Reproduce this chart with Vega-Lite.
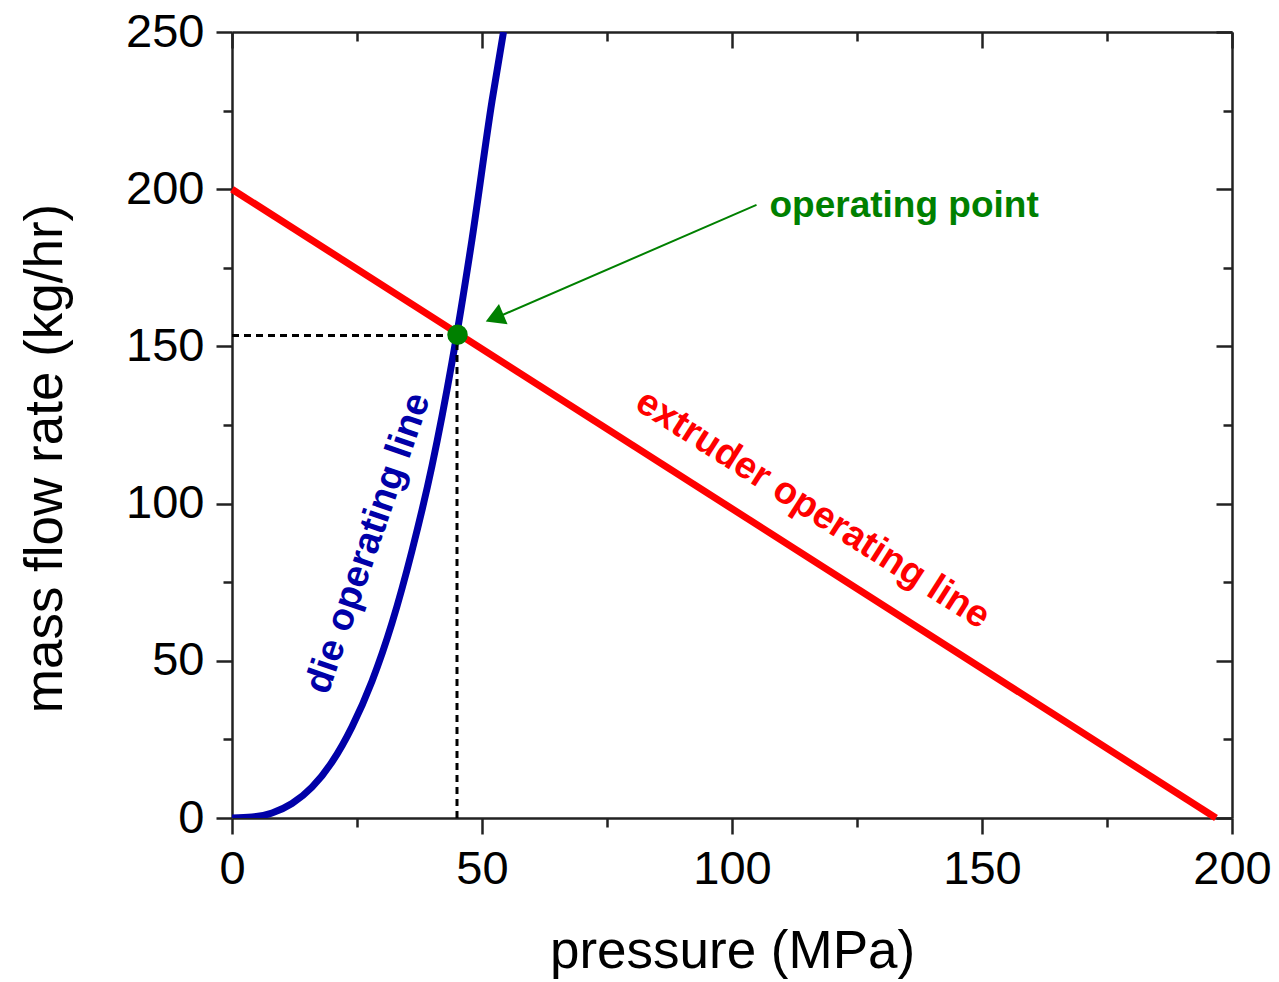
{
  "$schema": "https://vega.github.io/schema/vega-lite/v6.json",
  "width": 1000,
  "height": 786,
  "autosize": {"type": "none"},
  "padding": {"left": 232, "top": 32, "right": 47, "bottom": 164},
  "background": "white",
  "config": {
    "view": {"stroke": null},
    "axis": {
      "labelFont": "Liberation Sans",
      "titleFont": "Liberation Sans",
      "labelColor": "#000000",
      "titleColor": "#000000",
      "tickColor": "#222222",
      "domainColor": "#222222",
      "tickWidth": 2.5,
      "domainWidth": 2.5,
      "grid": false,
      "labelFlush": false,
      "labelOverlap": false,
      "titleFontWeight": "normal"
    },
    "text": {"font": "Liberation Sans"}
  },
  "resolve": {"axis": {"x": "independent", "y": "independent"}},
  "layer": [
    {
      "data": {"values": [{"p": 0, "m": 200}, {"p": 196.8, "m": 0}]},
      "mark": {"type": "line", "color": "#ff0000", "strokeWidth": 7},
      "encoding": {
        "x": {"field": "p", "type": "quantitative", "scale": {"domain": [0, 200], "nice": false},
          "axis": {"orient": "bottom", "values": [25, 75, 125, 175], "tickSize": 9, "labels": false, "domain": false, "title": null}},
        "y": {"field": "m", "type": "quantitative", "scale": {"domain": [0, 250], "nice": false},
          "axis": {"orient": "left", "values": [25, 75, 125, 175, 225], "tickSize": 9, "labels": false, "domain": false, "title": null}}
      }
    },
    {
      "data": {"values": [
        {"p": 0, "m": 0}, {"p": 4, "m": 0.3}, {"p": 8, "m": 1.6}, {"p": 12, "m": 4.6},
        {"p": 16, "m": 9.8}, {"p": 20, "m": 17.8}, {"p": 24, "m": 29}, {"p": 28, "m": 43.5},
        {"p": 32, "m": 62}, {"p": 36, "m": 85}, {"p": 40, "m": 112}, {"p": 44, "m": 145},
        {"p": 48, "m": 184}, {"p": 52, "m": 228}, {"p": 54.3, "m": 250}
      ]},
      "mark": {"type": "line", "color": "#0000a8", "strokeWidth": 7, "interpolate": "monotone", "clip": true},
      "encoding": {
        "x": {"field": "p", "type": "quantitative",
          "axis": {"orient": "bottom", "values": [0, 50, 100, 150, 200], "tickSize": 16, "labelFontSize": 47, "labelPadding": 12,
            "domain": true, "title": "pressure (MPa)", "titleFontSize": 53, "titleX": 500, "titleY": 149, "titleBaseline": "alphabetic", "titleAlign": "center"}},
        "y": {"field": "m", "type": "quantitative",
          "axis": {"orient": "left", "values": [0, 50, 100, 150, 200, 250], "tickSize": 16, "labelFontSize": 47, "labelPadding": 12,
            "domain": true, "title": "mass flow rate (kg/hr)", "titleFontSize": 53, "titleX": -171, "titleY": 426, "titleAngle": -90, "titleBaseline": "alphabetic", "titleAlign": "center"}}
      }
    },
    {
      "data": {"values": [{"p": 0, "p2": 45, "m": 153.5}]},
      "mark": {"type": "rule", "color": "#000000", "strokeWidth": 3, "strokeDash": [7, 5]},
      "encoding": {
        "x": {"field": "p", "type": "quantitative",
          "axis": {"orient": "top", "values": [0, 50, 100, 150, 200], "tickSize": -16, "labels": false, "domain": true, "title": null}},
        "x2": {"field": "p2"},
        "y": {"field": "m", "type": "quantitative",
          "axis": {"orient": "right", "values": [0, 50, 100, 150, 200, 250], "tickSize": -16, "labels": false, "domain": true, "title": null}}
      }
    },
    {
      "data": {"values": [{"p": 45, "m": 0, "m2": 153.5}]},
      "mark": {"type": "rule", "color": "#000000", "strokeWidth": 3, "strokeDash": [7, 5]},
      "encoding": {
        "x": {"field": "p", "type": "quantitative",
          "axis": {"orient": "top", "values": [25, 75, 125, 175], "tickSize": -9, "labels": false, "domain": false, "title": null}},
        "y": {"field": "m", "type": "quantitative",
          "axis": {"orient": "right", "values": [25, 75, 125, 175, 225], "tickSize": -9, "labels": false, "domain": false, "title": null}},
        "y2": {"field": "m2"}
      }
    },
    {
      "data": {"values": [{"p": 104.9, "m": 195.0, "p2": 54.1, "m2": 160.0}]},
      "mark": {"type": "rule", "color": "#008000", "strokeWidth": 2},
      "encoding": {
        "x": {"field": "p", "type": "quantitative", "axis": null},
        "y": {"field": "m", "type": "quantitative", "axis": null},
        "x2": {"field": "p2"},
        "y2": {"field": "m2"}
      }
    },
    {
      "data": {"values": [{"p": 52.5, "m": 159.1}]},
      "mark": {"type": "point", "shape": "triangle-up", "size": 484, "angle": 247, "filled": true, "color": "#008000", "opacity": 1},
      "encoding": {
        "x": {"field": "p", "type": "quantitative", "axis": null},
        "y": {"field": "m", "type": "quantitative", "axis": null}
      }
    },
    {
      "data": {"values": [{"p": 45.1, "m": 153.7}]},
      "mark": {"type": "circle", "size": 420, "color": "#008000", "opacity": 1},
      "encoding": {
        "x": {"field": "p", "type": "quantitative", "axis": null},
        "y": {"field": "m", "type": "quantitative", "axis": null}
      }
    },
    {
      "data": {"values": [{"p": 107.5, "m": 191.2, "t": "operating point"}]},
      "mark": {"type": "text", "align": "left", "baseline": "alphabetic", "fontSize": 37, "fontWeight": "bold", "color": "#008000"},
      "encoding": {
        "x": {"field": "p", "type": "quantitative", "axis": null},
        "y": {"field": "m", "type": "quantitative", "axis": null},
        "text": {"field": "t"}
      }
    },
    {
      "data": {"values": [{"p": 116.1, "m": 98.1, "t": "extruder operating line"}]},
      "mark": {"type": "text", "align": "center", "baseline": "middle", "fontSize": 38, "fontWeight": "bold", "color": "#ff0000", "angle": 32.6},
      "encoding": {
        "x": {"field": "p", "type": "quantitative", "axis": null},
        "y": {"field": "m", "type": "quantitative", "axis": null},
        "text": {"field": "t"}
      }
    },
    {
      "data": {"values": [{"p": 27.3, "m": 87.3, "t": "die operating line"}]},
      "mark": {"type": "text", "align": "center", "baseline": "middle", "fontSize": 38, "fontWeight": "bold", "color": "#0000a8", "angle": -71},
      "encoding": {
        "x": {"field": "p", "type": "quantitative", "axis": null},
        "y": {"field": "m", "type": "quantitative", "axis": null},
        "text": {"field": "t"}
      }
    }
  ]
}
